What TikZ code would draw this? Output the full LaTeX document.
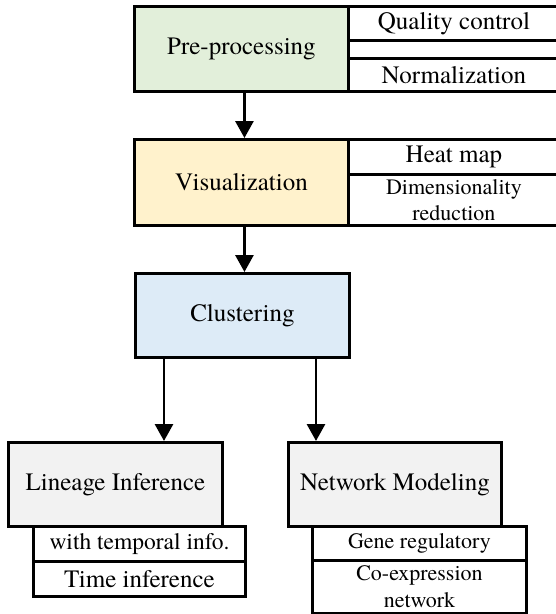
\documentclass[tikz,border=0pt]{standalone}
\usepackage{fontspec}
\setmainfont{TeX Gyre Termes}
\usetikzlibrary{arrows.meta}
\definecolor{pregreen}{HTML}{E2EFDA}
\definecolor{visyellow}{HTML}{FFF2CC}
\definecolor{clublue}{HTML}{DDEBF7}
\definecolor{stepgrey}{HTML}{F2F2F2}
\tikzset{
  box/.style={draw=black, line width=2.9pt, inner sep=0pt, anchor=north west,
              font=\fontsize{25}{30}\selectfont, align=center},
  subbox/.style={box, fill=white},
  smalltxt/.style={font=\fontsize{22}{26.5}\selectfont},
  arr/.style={line width=2.9pt, -{Triangle[length=17pt,width=18pt]}}
}
\begin{document}
\begin{tikzpicture}[x=1pt,y=-1pt]
\useasboundingbox (0,0) rectangle (556,614);
\begin{scope}
\clip (0,0) rectangle (556,614);
% Pre-processing stage and its sub-steps
\node[box, fill=pregreen, minimum width=214pt, minimum height=85pt] (pre) at (133,5) {Pre-processing};
\node[subbox, minimum width=211pt, minimum height=34pt] (qc) at (347,5) {Quality control};
\node[subbox, minimum width=211pt, minimum height=18pt] (gap) at (347,39) {};
\node[subbox, minimum width=211pt, minimum height=33pt] (norm) at (347,57) {Normalization};

% Visualization stage
\node[box, fill=visyellow, minimum width=214pt, minimum height=86pt] (vis) at (133,138) {Visualization};
\node[subbox, minimum width=211pt, minimum height=35pt] (heat) at (347,138) {Heat map};
\node[subbox, smalltxt, minimum width=211pt, minimum height=51pt] (dimred) at (347,173) {Dimensionality\\[-1pt]reduction};

% Clustering stage
\node[box, fill=clublue, minimum width=214pt, minimum height=84pt] (clu) at (134,272) {Clustering};

% Lineage inference branch
\node[box, fill=stepgrey, minimum width=214pt, minimum height=84pt] (lin) at (7,441) {Lineage Inference};
\node[subbox, font=\fontsize{23.5}{28}\selectfont, minimum width=212pt, minimum height=35pt] (temp) at (32,525) {with temporal info.};
\node[subbox, minimum width=212pt, minimum height=35pt] (time) at (32,560) {Time inference};

% Network modeling branch
\node[box, fill=stepgrey, minimum width=213pt, minimum height=84pt] (net) at (287,441) {Network Modeling};
\node[subbox, smalltxt, minimum width=214pt, minimum height=34pt] (grn) at (311,525) {Gene regulatory};
\node[subbox, smalltxt, minimum width=214pt, minimum height=53pt] (coex) at (311,559) {Co-expression\\[0pt]network};
\end{scope}

% Flow arrows
\draw[arr] ([xshift=3pt]pre.south) -- ([xshift=3pt]pre.south |- vis.north);
\draw[arr] ([xshift=3pt]vis.south) -- ([xshift=3pt]vis.south |- clu.north);
\draw[arr] ([xshift=30pt]clu.south west) -- ([xshift=30pt]clu.south west |- lin.north);
\draw[arr] ([xshift=182pt]clu.south west) -- ([xshift=182pt]clu.south west |- net.north);
\end{tikzpicture}
\end{document}
